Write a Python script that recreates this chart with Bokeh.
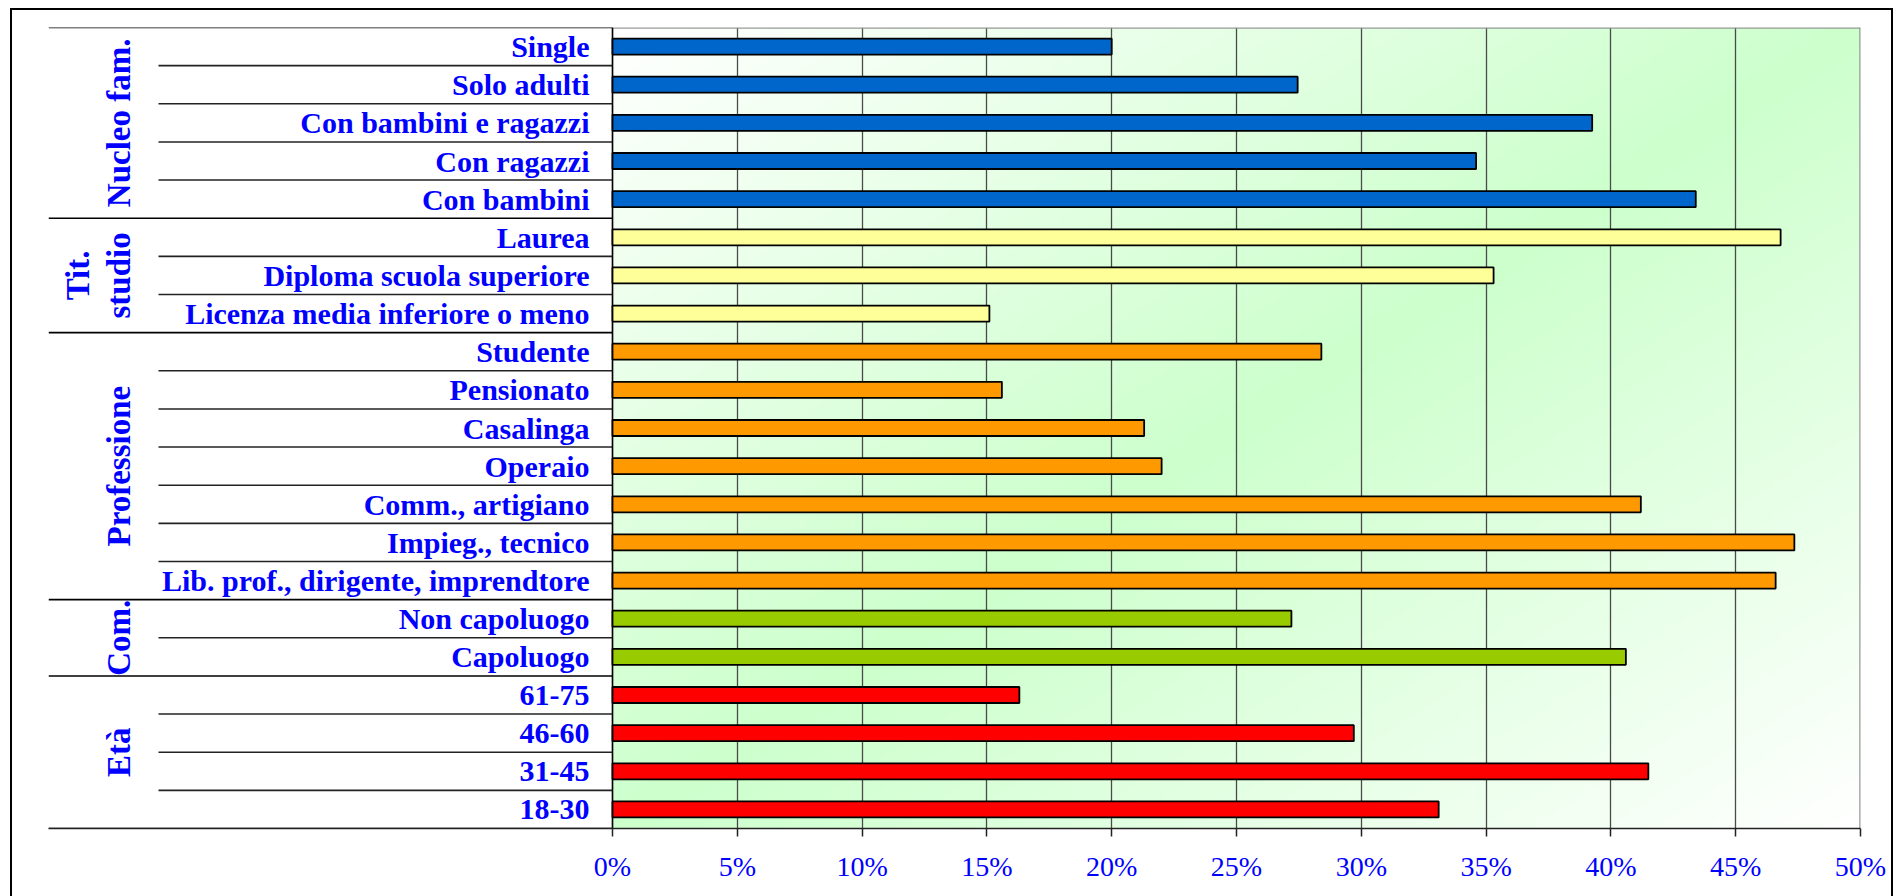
import numpy as np
from bokeh.plotting import figure
from bokeh.models import Range1d, FixedTicker
from bokeh.core.properties import value
from bokeh.embed import file_html
from bokeh.resources import INLINE

# ---------------- data ----------------
groups = ["Nucleo fam.", "Tit.\nstudio", "Professione", "Com.", "Età"]
group_sizes = [5, 3, 7, 2, 4]
group_colors = ["#0066CC", "#FFFF99", "#FF9900", "#99CC00", "#FF0000"]

categories = [
    "Single", "Solo adulti", "Con bambini e ragazzi", "Con ragazzi", "Con bambini",
    "Laurea", "Diploma scuola superiore", "Licenza media inferiore o meno",
    "Studente", "Pensionato", "Casalinga", "Operaio", "Comm., artigiano",
    "Impieg., tecnico", "Lib. prof., dirigente, imprendtore",
    "Non capoluogo", "Capoluogo",
    "61-75", "46-60", "31-45", "18-30",
]
values = [
    20.0, 27.45, 39.25, 34.6, 43.4,
    46.8, 35.3, 15.1,
    28.4, 15.6, 21.3, 22.0, 41.2, 47.35, 46.6,
    27.2, 40.6,
    16.3, 29.7, 41.5, 33.1,
]
tick_values = [0, 5, 10, 15, 20, 25, 30, 35, 40, 45, 50]
tick_labels = ["0%", "5%", "10%", "15%", "20%", "25%", "30%", "35%", "40%", "45%", "50%"]

# ---------------- layout ----------------
W, H = 1896, 896
FRAME_L, FRAME_R, FRAME_T, FRAME_B = 48, 1860, 27, 828
ZERO_X = 612
XMAX = tick_values[-1]
ppu = (FRAME_R - ZERO_X) / XMAX
x_start = -(ZERO_X - FRAME_L) / ppu
n = len(categories)

FONT = value("Liberation Serif")
BLUE = "#0000FF"

p = figure(width=W, height=H, x_range=Range1d(x_start, XMAX), y_range=Range1d(0, n),
           output_backend="svg", toolbar_location=None, y_axis_location=None,
           min_border_left=FRAME_L, min_border_right=W - FRAME_R,
           min_border_top=FRAME_T, min_border_bottom=H - FRAME_B)
p.outline_line_color = None
p.background_fill_color = "white"
p.border_fill_color = None
p.styles = {"box-shadow": ("inset 10px 8px 0 0 #ffffff, inset -3px 0 0 0 #ffffff, "
                           "inset 12px 10px 0 0 #000000, inset -5px 0 0 0 #000000")}

# gradient background of plot area
nx, ny = 320, 200
xn = (np.arange(nx) + 0.5) / nx
yt = 1.0 - (np.arange(ny) + 0.5) / ny  # row 0 is bottom
U = (xn[None, :] + yt[:, None]) / 2.0
f = 1.0 - np.abs(2.0 * U - 1.0)
img = np.empty((ny, nx, 4), dtype=np.uint8)
img[..., 0] = np.round(255 - 51 * f).astype(np.uint8)
img[..., 1] = 255
img[..., 2] = np.round(255 - 51 * f).astype(np.uint8)
img[..., 3] = 255
p.image_rgba(image=[img.view(np.uint32).reshape(ny, nx)], x=0, y=0, dw=XMAX, dh=n, level="image")

# grid
p.xgrid.ticker = FixedTicker(ticks=tick_values)
p.xgrid.grid_line_color = "#4a4a4a"
p.xgrid.grid_line_width = 1.3
p.ygrid.visible = False

# x axis
ax = p.xaxis[0]
ax.ticker = FixedTicker(ticks=tick_values)
ax.major_label_overrides = {t: l for t, l in zip(tick_values, tick_labels)}
ax.axis_line_color = "#222222"
ax.axis_line_width = 1.5
ax.major_tick_line_color = "#222222"
ax.major_tick_line_width = 1.5
ax.major_tick_out = 8
ax.major_tick_in = 0
ax.minor_tick_line_color = None
ax.major_label_standoff = 14
ax.major_label_text_font = "Liberation Serif"
ax.major_label_text_font_size = "28px"
ax.major_label_text_color = BLUE

# separator lines in label area
row_line_start = (158 - ZERO_X) / ppu
group_bounds = set(np.cumsum([0] + group_sizes).tolist())
x0s, y0s, x1s, y1s, cols = [], [], [], [], []
for k in range(n + 1):
    yb = n - k
    if k in group_bounds:
        x0s.append(x_start); cols.append("#000000")
    else:
        x0s.append(row_line_start); cols.append("#222222")
    y0s.append(yb); x1s.append(0); y1s.append(yb)
p.segment(x0=x0s, y0=y0s, x1=x1s, y1=y1s, line_color=cols, line_width=1.6)

# plot area borders
p.segment(x0=[0, XMAX], y0=[n, 0], x1=[XMAX, XMAX], y1=[n, n], line_color="#999999", line_width=2.5)
p.segment(x0=[0], y0=[0], x1=[0], y1=[n], line_color="#000000", line_width=1.5)

# bars
ys = [n - i - 0.5 for i in range(n)]
colors = []
for g, sz in enumerate(group_sizes):
    colors += [group_colors[g]] * sz
p.hbar(y=ys, left=0, right=values, height=0.42, fill_color=colors,
       line_color="#000000", line_width=1.8)

# category labels
p.text(x=[0] * n, y=ys, text=categories, x_offset=-23,
       text_align="right", text_baseline="middle", text_font=FONT,
       text_font_style="bold", text_font_size="30px", text_color=BLUE)

# group labels (rotated)
gx, gy, gt, gxo = [], [], [], []
start = 0
for name, sz in zip(groups, group_sizes):
    center = n - start - sz / 2.0
    lines = name.split("\n")
    for k, line in enumerate(lines):
        gx.append(0); gy.append(center); gt.append(line)
        gxo.append(-494 - 41 * (len(lines) - 1 - k))
    start += sz
p.text(x=gx, y=gy, text=gt, x_offset=gxo, angle=np.pi / 2,
       text_align="center", text_baseline="middle", text_font=FONT,
       text_font_style="bold", text_font_size="33px", text_color=BLUE)

open("out.html", "w").write(file_html(p, INLINE))
